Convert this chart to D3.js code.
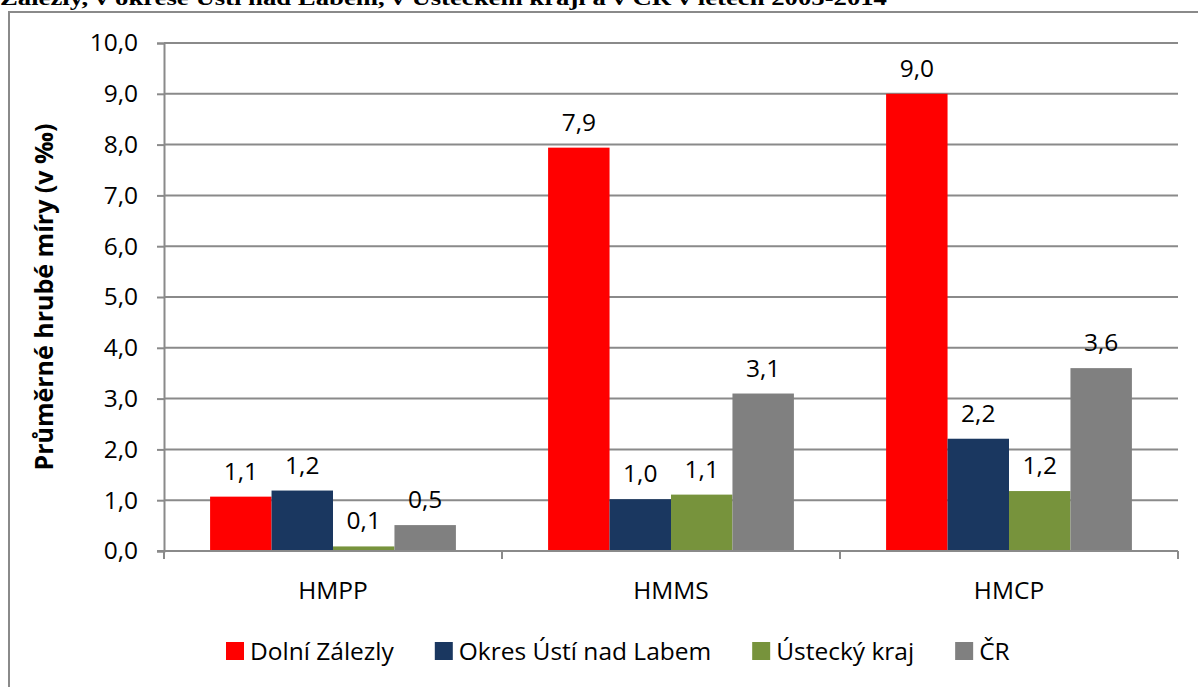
<!DOCTYPE html>
<html>
<head>
<meta charset="utf-8">
<script src="https://cdn.jsdelivr.net/npm/d3@7"></script>
<style>
  body { margin: 0; background: #fff; }
  svg { display: block; }
  text { font-family: "Open Sans", sans-serif; fill: #000; }
</style>
</head>
<body>
<div id="vis"></div>
<script>
// Chart data
const CATEGORIES = ["HMPP", "HMMS", "HMCP"];
const SERIES = ["Dolní Zálezly", "Okres Ústí nad Labem", "Ústecký kraj", "ČR"];
const VALUES_DOLNI = [1.07, 7.94, 9.0];
const VALUES_OKRES = [1.19, 1.02, 2.21];
const VALUES_KRAJ = [0.09, 1.11, 1.18];
const VALUES_CR = [0.51, 3.1, 3.6];
const Y_TICKS = [0, 1, 2, 3, 4, 5, 6, 7, 8, 9, 10];
const COLORS = ["#ff0000", "#1a3760", "#77933c", "#808080"];
const TITLE = "Zálezly, v okrese Ústí nad Labem, v Ústeckém kraji a v ČR v letech 2005-2014";
const Y_TITLE = "Průměrné hrubé míry (v ‰)";

// Frame and plot dimensions
const FRAME_WIDTH = 1198;
const FRAME_HEIGHT = 687;
const PLOT = {left: 164, right: 1178, top: 43, bottom: 551};
const FONT_SIZE = "24.5px";

const FRAME = d3.select("#vis")
  .append("svg")
    .attr("width", FRAME_WIDTH)
    .attr("height", FRAME_HEIGHT);

// Czech number format (decimal comma)
const CZ = d3.formatLocale({decimal: ",", thousands: " ", grouping: [3], currency: ["", " Kč"]});
const fmt = CZ.format(".1f");

// Outer chart border
FRAME.append("rect")
  .attr("x", 9)
  .attr("y", 12)
  .attr("width", 1200)
  .attr("height", 700)
  .attr("fill", "none")
  .attr("stroke", "#8a8a8a")
  .attr("stroke-width", 2);

// Title (cut off at the top edge, as in the source)
FRAME.append("text")
  .attr("x", 0)
  .attr("y", 5)
  .attr("textLength", 887)
  .attr("lengthAdjust", "spacingAndGlyphs")
  .style("font-family", "'Liberation Serif', serif")
  .style("font-weight", "bold")
  .style("font-size", "21px")
  .text(TITLE);

// Scales
const X_SCALE = d3.scaleBand()
  .domain(CATEGORIES)
  .range([PLOT.left, PLOT.right])
  .padding(0);

const X_INNER = d3.scaleBand()
  .domain(SERIES)
  .range([0, X_SCALE.bandwidth()])
  .paddingInner(0)
  .paddingOuter(0.75);

const Y_SCALE = d3.scaleLinear()
  .domain([0, 10])
  .range([PLOT.bottom, PLOT.top]);

const color = d3.scaleOrdinal().domain(SERIES).range(COLORS);

// Gridlines
FRAME.append("g")
  .selectAll("line")
  .data(Y_TICKS.slice(1))
  .enter()
  .append("line")
    .attr("x1", PLOT.left)
    .attr("x2", PLOT.right)
    .attr("y1", (d) => Y_SCALE(d))
    .attr("y2", (d) => Y_SCALE(d))
    .attr("stroke", "#8a8a8a")
    .attr("stroke-width", 2);

// Y axis
const yAxis = FRAME.append("g")
  .attr("transform", "translate(" + PLOT.left + ",0)")
  .call(d3.axisLeft(Y_SCALE).tickValues(Y_TICKS).tickFormat(fmt).tickSize(7).tickPadding(19));
yAxis.select(".domain").attr("stroke", "#8a8a8a").attr("stroke-width", 2);
yAxis.selectAll(".tick line").attr("stroke", "#8a8a8a").attr("stroke-width", 2);
yAxis.selectAll("text")
  .style("font-family", "'Open Sans', sans-serif")
  .style("font-size", FONT_SIZE)
  .attr("fill", "#000");

// Bars
const rows = [VALUES_DOLNI, VALUES_OKRES, VALUES_KRAJ, VALUES_CR];
const barData = [];
CATEGORIES.forEach((c, i) => {
  SERIES.forEach((s, j) => {
    barData.push({cat: c, series: s, value: rows[j][i]});
  });
});

FRAME.append("g")
  .selectAll("rect")
  .data(barData)
  .enter()
  .append("rect")
    .attr("x", (d) => X_SCALE(d.cat) + X_INNER(d.series))
    .attr("y", (d) => Y_SCALE(d.value))
    .attr("width", X_INNER.bandwidth())
    .attr("height", (d) => PLOT.bottom - Y_SCALE(d.value))
    .attr("fill", (d) => color(d.series));

// Data labels
FRAME.append("g")
  .selectAll("text")
  .data(barData)
  .enter()
  .append("text")
    .attr("x", (d) => X_SCALE(d.cat) + X_INNER(d.series) + X_INNER.bandwidth() / 2)
    .attr("y", (d) => Y_SCALE(d.value) - 17)
    .attr("text-anchor", "middle")
    .style("font-size", FONT_SIZE)
    .text((d) => fmt(d.value));

// X axis
const xAxis = FRAME.append("g")
  .attr("transform", "translate(0," + PLOT.bottom + ")");
xAxis.append("line")
  .attr("x1", PLOT.left - 7)
  .attr("x2", PLOT.right)
  .attr("stroke", "#8a8a8a")
  .attr("stroke-width", 2);
xAxis.selectAll(".sep")
  .data(CATEGORIES.map((c) => X_SCALE(c)).concat([PLOT.right]))
  .enter()
  .append("line")
    .attr("x1", (d) => d)
    .attr("x2", (d) => d)
    .attr("y1", 0)
    .attr("y2", 8)
    .attr("stroke", "#8a8a8a")
    .attr("stroke-width", 2);
xAxis.selectAll(".lbl")
  .data(CATEGORIES)
  .enter()
  .append("text")
    .attr("x", (d) => X_SCALE(d) + X_SCALE.bandwidth() / 2)
    .attr("y", 48)
    .attr("text-anchor", "middle")
    .style("font-size", FONT_SIZE)
    .text((d) => d);

// Y axis title
FRAME.append("text")
  .attr("transform", "translate(53," + ((PLOT.top + PLOT.bottom) / 2) + ") rotate(-90)")
  .attr("text-anchor", "middle")
  .style("font-weight", "bold")
  .style("font-size", "25px")
  .text(Y_TITLE);

// Legend
const legend = FRAME.append("g");
let lx = 226;
SERIES.forEach((s, i) => {
  legend.append("rect")
    .attr("x", lx)
    .attr("y", 642)
    .attr("width", 18)
    .attr("height", 18)
    .attr("fill", COLORS[i]);
  const t = legend.append("text")
    .attr("x", lx + 24)
    .attr("y", 660)
    .style("font-size", FONT_SIZE)
    .text(s);
  lx += 24 + t.node().getComputedTextLength() + 41;
});
</script>
</body>
</html>
